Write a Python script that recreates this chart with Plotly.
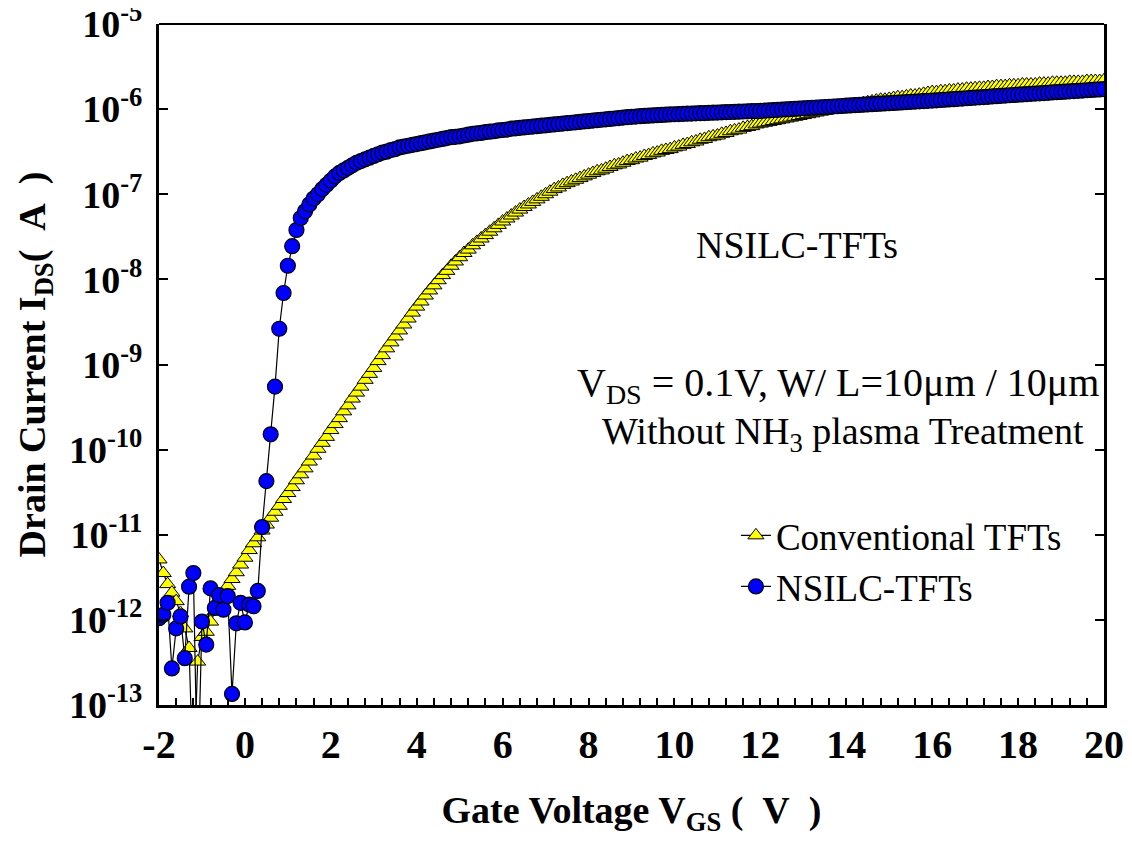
import numpy as np
import plotly.graph_objects as go

# Gate-voltage sweep: -2 V to 20 V in 0.1 V steps (221 points)
vgs = np.round(np.linspace(-2.0, 20.0, 221), 1)

# log10 of drain current (A); -14 = off-scale (below 1e-13)
conv_log10 = [
    -11.29, -11.45, -11.58, -11.68, -11.78, -11.92, -12.10, -12.33, -14.0, -12.49,
    -12.20, -12.14, -12.02, -11.90, -11.78, -11.68, -11.60, -11.52, -11.44, -11.35,
    -11.27, -11.18, -11.10, -11.03, -10.95, -10.88, -10.80, -10.73, -10.66, -10.58,
    -10.51, -10.44, -10.36, -10.29, -10.22, -10.14, -10.07, -9.99, -9.92, -9.85,
    -9.77, -9.70, -9.63, -9.55, -9.48, -9.40, -9.33, -9.26, -9.18, -9.11,
    -9.04, -8.96, -8.89, -8.81, -8.74, -8.67, -8.60, -8.53, -8.46, -8.39,
    -8.32, -8.26, -8.19, -8.13, -8.07, -8.01, -7.95, -7.90, -7.84, -7.79,
    -7.74, -7.69, -7.65, -7.60, -7.56, -7.52, -7.48, -7.44, -7.40, -7.36,
    -7.32, -7.285, -7.25, -7.215, -7.18, -7.15, -7.12, -7.09, -7.06, -7.03,
    -7.00, -6.97, -6.94, -6.92, -6.89, -6.87, -6.85, -6.83, -6.81, -6.79,
    -6.77, -6.75, -6.73, -6.72, -6.70, -6.68, -6.66, -6.65, -6.63, -6.61,
    -6.60, -6.58, -6.57, -6.55, -6.54, -6.52, -6.51, -6.49, -6.48, -6.47,
    -6.45, -6.44, -6.42, -6.41, -6.39, -6.38, -6.36, -6.35, -6.33, -6.32,
    -6.31, -6.29, -6.28, -6.26, -6.25, -6.24, -6.22, -6.21, -6.20, -6.18,
    -6.17, -6.16, -6.15, -6.14, -6.13, -6.12, -6.11, -6.10, -6.09, -6.08,
    -6.07, -6.06, -6.05, -6.04, -6.03, -6.02, -6.01, -6.00, -5.99, -5.98,
    -5.97, -5.96, -5.95, -5.94, -5.93, -5.92, -5.91, -5.90, -5.89, -5.89,
    -5.88, -5.87, -5.86, -5.86, -5.85, -5.84, -5.84, -5.83, -5.82, -5.81,
    -5.80, -5.80, -5.79, -5.79, -5.78, -5.78, -5.77, -5.77, -5.76, -5.76,
    -5.755, -5.75, -5.75, -5.74, -5.74, -5.73, -5.73, -5.73, -5.72, -5.72,
    -5.72, -5.71, -5.71, -5.71, -5.71, -5.70, -5.70, -5.70, -5.69, -5.69,
    -5.69, -5.69, -5.68, -5.68, -5.68, -5.68, -5.67, -5.67, -5.67, -5.67,
    -5.66,
]

nsilc_log10 = [
    -11.98, -11.94, -11.80, -12.57, -12.10, -11.96, -12.45, -11.61, -11.45, -14.0,
    -12.02, -12.29, -11.63, -11.86, -11.71, -11.88, -11.72, -12.87, -12.04, -11.80,
    -12.03, -11.82, -11.84, -11.66, -10.91, -10.37, -9.82, -9.26, -8.58, -8.16,
    -7.84, -7.61, -7.42, -7.28, -7.20, -7.12, -7.05, -7.00, -6.94, -6.89,
    -6.84, -6.79, -6.75, -6.72, -6.69, -6.66, -6.63, -6.61, -6.59, -6.57,
    -6.55, -6.53, -6.51, -6.50, -6.48, -6.47, -6.45, -6.44, -6.43, -6.42,
    -6.41, -6.40, -6.39, -6.38, -6.37, -6.36, -6.35, -6.34, -6.33, -6.325,
    -6.32, -6.31, -6.30, -6.29, -6.285, -6.28, -6.27, -6.265, -6.26, -6.25,
    -6.245, -6.24, -6.23, -6.225, -6.22, -6.215, -6.21, -6.205, -6.20, -6.195,
    -6.19, -6.185, -6.18, -6.175, -6.17, -6.165, -6.16, -6.155, -6.15, -6.145,
    -6.14, -6.135, -6.13, -6.125, -6.12, -6.115, -6.11, -6.105, -6.10, -6.095,
    -6.09, -6.087, -6.083, -6.08, -6.077, -6.074, -6.071, -6.068, -6.065, -6.062,
    -6.060, -6.058, -6.056, -6.054, -6.052, -6.050, -6.048, -6.046, -6.044, -6.042,
    -6.040, -6.038, -6.036, -6.034, -6.032, -6.030, -6.028, -6.026, -6.024, -6.022,
    -6.020, -6.017, -6.014, -6.011, -6.008, -6.005, -6.002, -5.999, -5.996, -5.993,
    -5.990, -5.987, -5.984, -5.981, -5.978, -5.975, -5.972, -5.969, -5.966, -5.963,
    -5.960, -5.957, -5.954, -5.951, -5.948, -5.945, -5.942, -5.939, -5.936, -5.933,
    -5.930, -5.927, -5.924, -5.921, -5.918, -5.915, -5.912, -5.909, -5.906, -5.903,
    -5.900, -5.897, -5.893, -5.890, -5.886, -5.883, -5.879, -5.876, -5.872, -5.869,
    -5.865, -5.862, -5.858, -5.855, -5.851, -5.848, -5.844, -5.841, -5.837, -5.834,
    -5.830, -5.827, -5.824, -5.820, -5.817, -5.814, -5.811, -5.808, -5.804, -5.801,
    -5.798, -5.795, -5.791, -5.788, -5.785, -5.782, -5.778, -5.775, -5.772, -5.769,
    -5.765,
]

series_names = ["Conventional TFTs", "NSILC-TFTs"]
y_exponents = [-13, -12, -11, -10, -9, -8, -7, -6, -5]
y_ticktext = [f"10<sup>{e}</sup>" for e in y_exponents]
x_tickvals = [-2, 0, 2, 4, 6, 8, 10, 12, 14, 16, 18, 20]
x_ticktext = ["-2", "0", "2", "4", "6", "8", "10", "12", "14", "16", "18", "20"]

conv_current = [10.0 ** v for v in conv_log10]
nsilc_current = [10.0 ** v for v in nsilc_log10]

SERIF = "Liberation Serif, Times New Roman, serif"
NB = "\u00a0"

fig = go.Figure()
fig.add_trace(go.Scatter(
    x=vgs, y=conv_current, name=series_names[0], mode="lines+markers",
    line=dict(color="black", width=1.2),
    marker=dict(symbol="triangle-up", size=14, color="#ffff00",
                line=dict(color="black", width=1)),
))
fig.add_trace(go.Scatter(
    x=vgs, y=nsilc_current, name=series_names[1], mode="lines+markers",
    line=dict(color="black", width=1.2),
    marker=dict(symbol="circle", size=15, color="#0000ff",
                line=dict(color="black", width=1.2)),
))

# page body adds an 8 px offset; margins compensate so the plot box sits at
# x 159..1104, y 24..705 in the screenshot
fig.update_layout(
    width=1132, height=841,
    paper_bgcolor="white", plot_bgcolor="white",
    margin=dict(l=151, r=36, t=16, b=144, autoexpand=False),
    font=dict(family=SERIF, color="black"),
    showlegend=True,
    legend=dict(
        x=0.6105, y=0.294, xanchor="left", yanchor="top",
        bgcolor="rgba(0,0,0,0)", font=dict(family=SERIF, size=37, color="black"),
        tracegroupgap=0, itemwidth=30,
    ),
)

fig.update_xaxes(
    range=[-2, 20], tickvals=x_tickvals, ticktext=x_ticktext, automargin=False,
    showline=True, linecolor="black", linewidth=3,
    ticks="inside", ticklen=7, tickwidth=1.5, tickcolor="black",
    minor=dict(tick0=0, dtick=0.4, ticks="inside", ticklen=7, tickwidth=1.5, tickcolor="black"),
    showgrid=False, zeroline=False, ticklabelstandoff=2, ticklabeloverflow="allow",
    tickfont=dict(family=SERIF, size=40, color="black", weight="bold"),
    title=dict(text=f"Gate Voltage V<sub>GS</sub> ({NB}{NB}V{NB}{NB})", standoff=31,
               font=dict(family=SERIF, size=38, color="black", weight="bold")),
)
fig.update_yaxes(
    type="log", range=[-13, -5], automargin=False,
    tickvals=[10.0 ** e for e in y_exponents], ticktext=y_ticktext,
    showline=True, linecolor="black", linewidth=3, mirror="ticks",
    ticks="inside", ticklen=9, tickwidth=1.5, tickcolor="black",
    showgrid=False, zeroline=False, ticklabelstandoff=6, ticklabeloverflow="allow",
    tickfont=dict(family=SERIF, size=38, color="black", weight="bold"),
    title=dict(text=f"Drain Current I<sub>DS</sub>({NB}{NB}A{NB}{NB})", standoff=12,
               font=dict(family=SERIF, size=38, color="black", weight="bold")),
)

# thin top border
fig.add_shape(type="line", xref="paper", yref="paper", x0=0, x1=1, y0=1, y1=1,
              line=dict(color="black", width=2))

fig.add_annotation(x=0.675, y=0.675, xref="paper", yref="paper",
                   xanchor="center", yanchor="middle",
                   text="NSILC-TFTs", showarrow=False,
                   font=dict(family=SERIF, size=38, color="black"))
fig.add_annotation(x=0.997, y=0.47, xref="paper", yref="paper",
                   xanchor="right", yanchor="middle",
                   text="V<sub>DS</sub> = 0.1V, W/ L=10μm / 10μm", showarrow=False,
                   font=dict(family=SERIF, size=40, color="black"))
fig.add_annotation(x=0.981, y=0.398, xref="paper", yref="paper",
                   xanchor="right", yanchor="middle",
                   text="Without NH<sub>3</sub> plasma Treatment", showarrow=False,
                   font=dict(family=SERIF, size=38, color="black"))

fig.write_html("out.html")
